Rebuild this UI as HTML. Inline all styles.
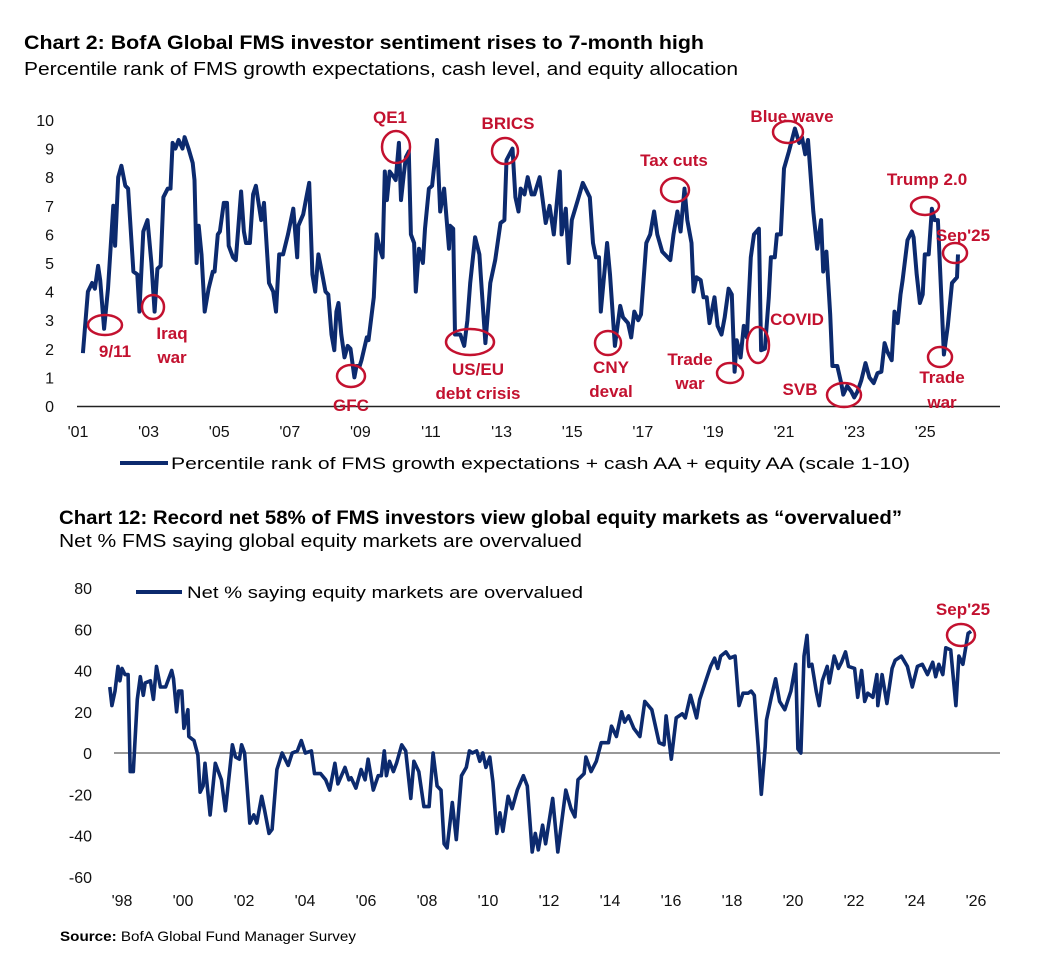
<!DOCTYPE html>
<html><head><meta charset="utf-8"><style>
html,body{margin:0;padding:0;background:#fff;}
svg{display:block;font-family:"Liberation Sans",sans-serif;}
.ann{fill:#c3112f;font-weight:bold;font-size:17px;text-anchor:middle;}
.ring{fill:none;stroke:#c3112f;stroke-width:2.5;}
.tick{font-size:16px;fill:#111;}
</style></head><body>
<svg id="svg" width="1050" height="964" viewBox="0 0 1050 964">
<text x="24" y="49" font-size="19" font-weight="bold" textLength="680" lengthAdjust="spacingAndGlyphs">Chart 2: BofA Global FMS investor sentiment rises to 7-month high</text>
<text x="24" y="75" font-size="18" textLength="714" lengthAdjust="spacingAndGlyphs">Percentile rank of FMS growth expectations, cash level, and equity allocation</text>
<g id="c1"></g>
<text x="59" y="524" font-size="19" font-weight="bold" textLength="843" lengthAdjust="spacingAndGlyphs">Chart 12: Record net 58% of FMS investors view global equity markets as “overvalued”</text>
<text x="59" y="547" font-size="18" textLength="523" lengthAdjust="spacingAndGlyphs">Net % FMS saying global equity markets are overvalued</text>
<g id="c2"></g>
<text x="60" y="941" font-size="14" textLength="296" lengthAdjust="spacingAndGlyphs"><tspan font-weight="bold">Source:</tspan> BofA Global Fund Manager Survey</text>
</svg>
<script>
// Chart 1 data: time (years since Jan 2001) and value (scale 1-10)
const c1Time = [0.14,0.28,0.40,0.48,0.57,0.63,0.74,0.85,1.00,1.05,1.14,1.23,1.34,1.42,1.57,1.68,1.74,1.85,1.97,2.08,2.17,2.25,2.34,2.42,2.54,2.62,2.68,2.76,2.85,2.96,3.02,3.13,3.25,3.30,3.36,3.42,3.50,3.59,3.70,3.82,3.87,3.96,4.02,4.13,4.22,4.27,4.39,4.47,4.62,4.70,4.76,4.87,4.96,5.04,5.19,5.27,5.41,5.53,5.61,5.70,5.81,5.95,6.10,6.21,6.24,6.38,6.47,6.55,6.64,6.72,6.81,6.92,7.01,7.09,7.18,7.26,7.32,7.38,7.46,7.55,7.64,7.72,7.83,7.89,7.98,8.03,8.18,8.23,8.38,8.46,8.55,8.63,8.69,8.75,8.83,8.95,9.00,9.09,9.15,9.23,9.29,9.37,9.43,9.52,9.57,9.66,9.77,9.83,9.94,10.03,10.17,10.26,10.37,10.51,10.54,10.63,10.68,10.83,10.94,11.03,11.11,11.25,11.37,11.42,11.54,11.68,11.82,11.97,12.08,12.14,12.31,12.39,12.48,12.54,12.65,12.74,12.85,12.93,13.08,13.25,13.36,13.48,13.65,13.70,13.82,13.90,13.99,14.16,14.30,14.50,14.59,14.67,14.76,14.81,14.99,15.07,15.21,15.36,15.44,15.58,15.67,15.76,15.87,15.95,16.10,16.21,16.32,16.41,16.55,16.78,16.87,16.98,17.07,17.18,17.26,17.38,17.44,17.52,17.64,17.72,17.81,17.89,18.03,18.12,18.23,18.32,18.43,18.52,18.60,18.66,18.77,18.86,18.95,19.06,19.15,19.29,19.35,19.46,19.57,19.63,19.74,19.80,19.91,20.00,20.14,20.31,20.43,20.51,20.60,20.68,20.83,20.94,21.05,21.11,21.20,21.31,21.37,21.51,21.62,21.68,21.79,21.91,21.99,22.08,22.19,22.31,22.42,22.54,22.65,22.76,22.85,22.93,23.05,23.13,23.22,23.30,23.36,23.50,23.62,23.67,23.76,23.85,23.93,23.99,24.10,24.19,24.27,24.36,24.53,24.64,24.76,24.90,24.93];
const c1Value = [1.85,4.0,4.3,4.1,4.9,4.4,2.7,4.1,7.0,5.6,8.0,8.4,7.7,7.6,4.7,4.6,3.3,6.1,6.5,5.0,3.3,4.8,4.9,7.3,7.6,7.6,9.2,9.0,9.3,9.0,9.4,9.0,8.5,7.9,5.0,6.3,5.3,3.3,4.1,4.7,4.7,6.0,6.1,7.1,7.1,5.6,5.2,5.1,7.5,6.1,5.7,5.7,7.4,7.7,6.5,7.1,4.3,4.0,3.3,5.3,5.3,6.0,6.9,5.2,6.3,6.7,7.3,7.8,4.6,4.0,5.3,4.6,4.0,3.9,2.5,1.95,3.3,3.6,2.5,1.7,2.1,2.0,1.0,1.4,1.4,1.6,2.4,2.3,3.8,6.0,5.5,5.2,8.2,7.2,8.2,8.0,7.9,9.2,7.2,8.1,8.7,8.9,6.0,5.7,4.0,5.5,5.0,6.2,7.6,7.7,9.3,6.8,7.6,5.5,6.3,6.2,2.5,2.5,2.1,3.0,4.3,5.9,5.3,4.4,2.2,4.3,5.1,6.4,6.5,8.6,9.0,7.3,6.8,7.6,7.4,8.0,7.4,7.4,8.0,6.4,7.0,6.0,8.2,6.0,6.9,5.0,6.5,7.2,7.8,7.3,5.7,5.2,5.2,3.3,5.7,4.6,2.1,3.5,3.1,2.9,2.4,3.3,3.0,3.2,5.7,6.0,6.8,6.0,5.4,5.1,6.0,6.8,6.1,7.6,6.5,5.7,4.0,4.5,4.4,3.8,3.8,2.9,3.8,2.8,2.5,3.1,4.1,3.9,1.2,2.3,1.7,2.8,2.4,5.2,6.0,6.2,1.95,2.0,3.8,5.2,5.2,6.0,6.0,8.3,8.9,9.7,9.2,9.4,8.8,9.3,6.8,5.5,6.5,4.7,5.4,3.2,1.4,1.4,0.8,0.4,0.7,0.5,0.3,0.5,0.9,1.5,1.0,0.8,1.15,1.2,2.2,1.9,1.6,3.3,2.9,3.9,4.4,5.8,6.1,5.9,4.6,3.6,3.9,5.3,5.3,6.9,6.5,6.5,1.8,2.8,4.3,4.5,5.3];
const c1YTicks = [0,1,2,3,4,5,6,7,8,9,10];
const c1XTickYears = [0,2,4,6,8,10,12,14,16,18,20,22,24];
const c1XTickLabels = ["'01","'03","'05","'07","'09","'11","'13","'15","'17","'19","'21","'23","'25"];

// Chart 2 data: time (years since Jan 1998) and net % overvalued
const c2Time = [-0.40,-0.33,-0.23,-0.13,-0.07,0,0.10,0.20,0.27,0.37,0.50,0.60,0.70,0.76,0.93,1.03,1.13,1.26,1.43,1.63,1.69,1.79,1.86,1.96,2.03,2.16,2.19,2.36,2.49,2.56,2.66,2.72,2.89,3.06,3.26,3.39,3.62,3.72,3.85,3.92,4.02,4.19,4.32,4.42,4.58,4.68,4.82,4.92,5.08,5.25,5.45,5.58,5.75,5.88,6.01,6.21,6.31,6.51,6.68,6.81,6.98,7.08,7.31,7.44,7.51,7.67,7.84,7.97,8.07,8.24,8.40,8.50,8.60,8.67,8.77,8.90,9.00,9.17,9.30,9.47,9.57,9.73,9.90,10.07,10.20,10.33,10.46,10.56,10.66,10.83,10.96,11.13,11.29,11.39,11.49,11.63,11.73,11.83,11.93,12.06,12.16,12.29,12.39,12.49,12.66,12.79,12.96,13.16,13.29,13.45,13.55,13.65,13.79,13.89,14.12,14.29,14.55,14.72,14.85,14.95,15.15,15.21,15.38,15.55,15.71,15.95,16.05,16.21,16.38,16.48,16.61,16.78,16.98,17.14,17.37,17.61,17.77,17.84,18.01,18.17,18.37,18.47,18.64,18.84,18.94,19.14,19.30,19.43,19.53,19.63,19.80,19.93,20.10,20.23,20.36,20.53,20.63,20.73,20.86,20.96,21.09,21.13,21.29,21.43,21.56,21.73,21.93,22.09,22.16,22.26,22.36,22.46,22.52,22.62,22.76,22.86,22.96,23.12,23.19,23.35,23.49,23.59,23.72,23.82,24.02,24.12,24.25,24.35,24.45,24.62,24.75,24.78,24.92,25.08,25.25,25.35,25.55,25.75,25.91,26.08,26.24,26.41,26.58,26.68,26.78,26.91,27.01,27.17,27.34,27.44,27.57,27.74,27.84];
const c2Value = [32,23,30,42,35,41,38,38,-9,-9,26,37,28,34,35,26,42,32,32,40,36,20,30,30,12,21,8,6,-1,-19,-16,-5,-30,-5,-13,-28,4,-2,-3,4,0,-34,-30,-34,-21,-28,-39,-37,-8,0,-6,0,1,6,0,1,-10,-10,-13,-18,-5,-15,-7,-13,-12,-17,-8,-13,-3,-18,-11,-11,1,-11,-4,-9,-5,4,1,-22,-4,-9,-26,-26,0,-16,-18,-44,-46,-24,-42,-11,-7,1,0,1,-4,0,-7,-2,-14,-39,-29,-38,-21,-27,-18,-11,-16,-48,-39,-47,-35,-44,-22,-48,-18,-27,-31,-13,-10,-2,-9,-4,5,5,13,8,20,15,18,12,8,25,21,5,4,18,-3,17,19,17,28,17,26,35,42,46,41,47,49,46,47,23,29,29,30,28,3,-20,3,16,27,36,25,21,30,43,2,0,47,57,42,43,30,23,35,42,34,47,41,44,49,42,41,27,40,25,29,27,38,23,38,24,41,45,47,42,32,42,43,38,44,37,43,38,51,50,23,47,43,58,59];
const c2YTicks = [-60,-40,-20,0,20,40,60,80];
const c2XTickYears = [0,2,4,6,8,10,12,14,16,18,20,22,24,26,28];
const c2XTickLabels = ["'98","'00","'02","'04","'06","'08","'10","'12","'14","'16","'18","'20","'22","'24","'26"];

const NS = 'http://www.w3.org/2000/svg';
function mk(parent, tag, attrs, txt){
  const e = document.createElementNS(NS, tag);
  for (const k in attrs) e.setAttribute(k, attrs[k]);
  if (txt !== undefined) e.textContent = txt;
  parent.appendChild(e);
  return e;
}
// axis functions
const x1 = t => 78 + t * 35.3;
const y1 = v => 406 - v * 28.6;
const x2 = t => 122 + t * 30.5;
const y2 = v => 753 - v * 2.0625;

const g1 = document.getElementById('c1');
c1YTicks.forEach(v => {
  const t = mk(g1, 'text', {x: 54, y: y1(v) + 6, 'text-anchor': 'end', class: 'tick'}, String(v));
  
  
});
c1XTickYears.forEach((yr, i) => {
  const t = mk(g1, 'text', {x: x1(yr), y: 437, 'text-anchor': 'middle', class: 'tick'}, c1XTickLabels[i]);
  
  
});
const ax1 = mk(g1, 'line', {x1: 77, x2: 1000, y1: 406.5, y2: 406.5, stroke: '#222', 'stroke-width': 1.5});


const p1 = mk(g1, 'path', {d: c1Time.map((t, i) => (i ? 'L' : 'M') + x1(t).toFixed(1) + ',' + y1(c1Value[i]).toFixed(1)).join(''), fill: 'none', stroke: '#0c2a6e', 'stroke-width': 4, 'stroke-linejoin': 'round'});


const l1 = mk(g1, 'line', {x1: 120, x2: 168, y1: 463, y2: 463, stroke: '#0c2a6e', 'stroke-width': 4});


const lt1 = mk(g1, 'text', {x: 171, y: 469, 'font-size': 17, textLength: 739, lengthAdjust: 'spacingAndGlyphs'}, 'Percentile rank of FMS growth expectations + cash AA + equity AA (scale 1-10)');



// annotations chart 1
const ann1 = [
  ['9/11',[115],[357],105,325,17,10],
  ['Iraq war',[172,172],[339,363],153,307,11,12],
  ['GFC',[351],[411],351,376,14,11],
  ['QE1',[390],[123],396,147,14,16],
  ['BRICS',[508],[129],505,151,13,13],
  ['US/EU debt crisis',[478,478],[375,399],470,342,24,13],
  ['CNY deval',[611,611],[373,397],608,343,13,12],
  ['Tax cuts',[674],[166],675,190,14,12],
  ['Trade war',[690,690],[365,389],730,373,13,10],
  ['COVID',[797],[325],758,345,11,18],
  ['Blue wave',[792],[122],788,132,15,11],
  ['SVB',[800],[395],844,395,17,12],
  ['Trump 2.0',[927],[185],925,206,14,9],
  ["Sep'25",[963],[241],955,253,12,10],
  ['Trade war',[942,942],[383,408],940,357,12,10]
];
ann1.forEach(a => {
  const e = mk(g1, 'ellipse', {cx: a[3], cy: a[4], rx: a[5], ry: a[6], class: 'ring'});
  
  
  const words = a[1].length === 2 ? (a[0] === 'US/EU debt crisis' ? ['US/EU', 'debt crisis'] : a[0].split(' ')) : [a[0]];
  words.forEach((w, i) => {
    const t = mk(g1, 'text', {x: a[1][i], y: a[2][i], class: 'ann'}, w);
    
    
  });
});

const g2 = document.getElementById('c2');
c2YTicks.forEach(v => {
  const t = mk(g2, 'text', {x: 92, y: y2(v) + 6, 'text-anchor': 'end', class: 'tick'}, String(v));
  
  
});
c2XTickYears.forEach((yr, i) => {
  const t = mk(g2, 'text', {x: x2(yr), y: 906, 'text-anchor': 'middle', class: 'tick'}, c2XTickLabels[i]);
  
  
});
const ax2 = mk(g2, 'line', {x1: 114, x2: 1000, y1: y2(0), y2: y2(0), stroke: '#777', 'stroke-width': 1.5});


const p2 = mk(g2, 'path', {d: c2Time.map((t, i) => (i ? 'L' : 'M') + x2(t).toFixed(1) + ',' + y2(c2Value[i]).toFixed(1)).join(''), fill: 'none', stroke: '#0c2a6e', 'stroke-width': 3.6, 'stroke-linejoin': 'round'});


const l2 = mk(g2, 'line', {x1: 136, x2: 182, y1: 592, y2: 592, stroke: '#0c2a6e', 'stroke-width': 4});


const lt2 = mk(g2, 'text', {x: 187, y: 598, 'font-size': 17, textLength: 396, lengthAdjust: 'spacingAndGlyphs'}, 'Net % saying equity markets are overvalued');


const e2 = mk(g2, 'ellipse', {cx: 961, cy: 635, rx: 14, ry: 11, class: 'ring'});


const t2 = mk(g2, 'text', {x: 963, y: 615, class: 'ann'}, "Sep'25");


</script>
</body></html>
